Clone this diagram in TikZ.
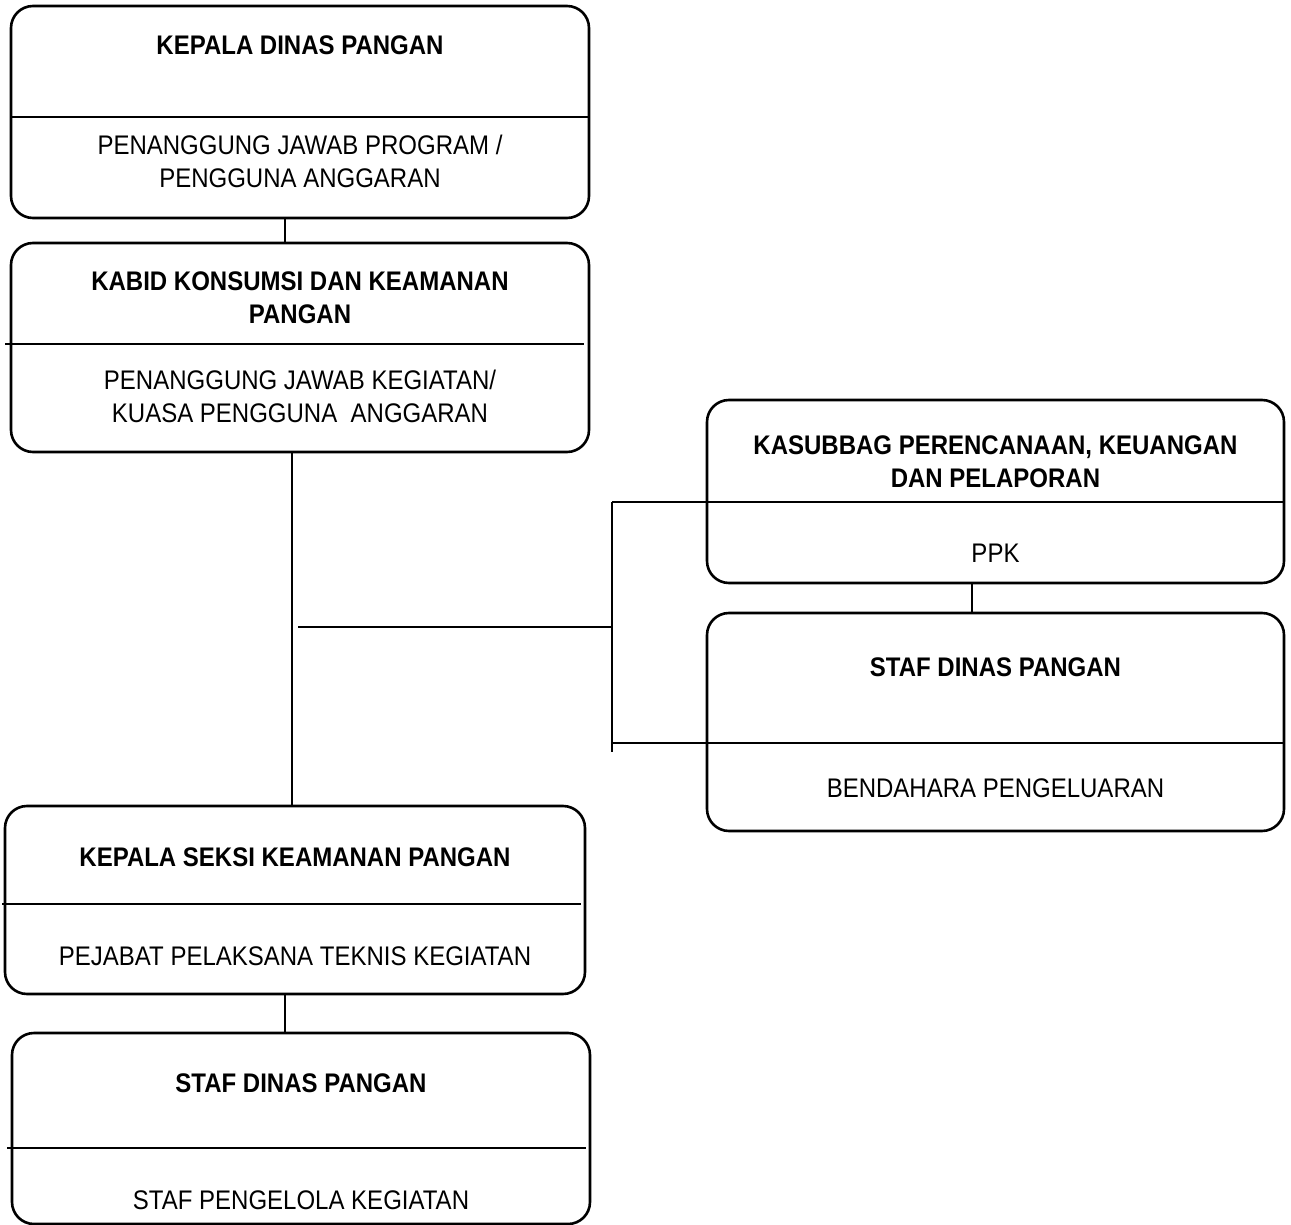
\documentclass[tikz,border=0pt]{standalone}
\usepackage{fontspec}
\setmainfont{Liberation Sans}
\usepackage{tikz}

\begin{document}
\begin{tikzpicture}[
  x=0.5pt, y=-0.5pt,
  box/.style={draw, line width=1.3pt, rounded corners=11pt, outer sep=0pt, inner sep=0pt},
  title/.style={font=\bfseries\fontsize{12}{14.7}\selectfont, align=center, yscale=1.12},
  sub/.style={font=\fontsize{12}{14.7}\selectfont, align=center, yscale=1.12},
  link/.style={line width=1pt}]

  \useasboundingbox (0,0) rectangle (1291,1225);

  % left column
  \node[box, minimum width=289pt, minimum height=106pt] (kadis) at (300,112) {};
  \node[box, minimum width=289pt, minimum height=104.5pt] (kabid) at (300,347.5) {};
  \node[box, minimum width=290pt, minimum height=94pt] (kasi) at (295,900) {};
  \node[box, minimum width=289pt, minimum height=95.5pt] (staf) at (301,1128.5) {};

  % right column
  \node[box, minimum width=288.5pt, minimum height=91.5pt] (kasub) at (995.5,491.5) {};
  \node[box, minimum width=288.5pt, minimum height=109pt] (bend) at (995.5,722) {};

  % dividers
  \draw[link] (11,117) -- (589,117);
  \draw[link] (5,344) -- (584,344);
  \draw[link] (2,904) -- (581,904);
  \draw[link] (7,1148) -- (586,1148);

  % texts
  \node[title] (kadis-t) at (300,45) {KEPALA DINAS PANGAN};
  \node[sub] (kadis-s) at (300,161.5) {PENANGGUNG JAWAB PROGRAM /\\PENGGUNA ANGGARAN};
  \node[title] (kabid-t) at (300,298) {KABID KONSUMSI DAN KEAMANAN\\PANGAN};
  \node[sub] (kabid-s) at (300,396.5) {PENANGGUNG JAWAB KEGIATAN/\\KUASA PENGGUNA~ ANGGARAN};
  \node[title] (kasub-t) at (995.5,461.5) {KASUBBAG PERENCANAAN, KEUANGAN\\DAN PELAPORAN};
  \node[sub] (kasub-s) at (995.5,553) {PPK};
  \node[title] (bend-t) at (995.5,667) {STAF DINAS PANGAN};
  \node[sub] (bend-s) at (995.5,788) {BENDAHARA PENGELUARAN};
  \node[title] (kasi-t) at (295,857) {KEPALA SEKSI KEAMANAN PANGAN};
  \node[sub] (kasi-s) at (295,956) {PEJABAT PELAKSANA TEKNIS KEGIATAN};
  \node[title] (staf-t) at (301,1083) {STAF DINAS PANGAN};
  \node[sub] (staf-s) at (301,1200) {STAF PENGELOLA KEGIATAN};

  % vertical links
  \coordinate (lane1) at (285,0);
  \coordinate (lane2) at (292,0);
  \coordinate (lane3) at (972,0);
  \draw[link] (kadis.south -| lane1) -- (kabid.north -| lane1);
  \draw[link] (kabid.south -| lane2) -- (kasi.north -| lane2);
  \draw[link] (kasi.south -| lane1) -- (staf.north -| lane1);
  \draw[link] (kasub.south -| lane3) -- (bend.north -| lane3);

  % branch to right column
  \coordinate (busT) at (612,502);
  \coordinate (busM) at (612,627);
  \coordinate (busD) at (612,743);
  \coordinate (busB) at (612,752);
  \coordinate (stub) at (298,627);
  \draw[link] (busT) -- (busB);
  \draw[link] (stub) -- (busM);
  \draw[link] (busT) -- (kasub.east |- busT);
  \draw[link] (busD) -- (bend.east |- busD);
\end{tikzpicture}
\end{document}
